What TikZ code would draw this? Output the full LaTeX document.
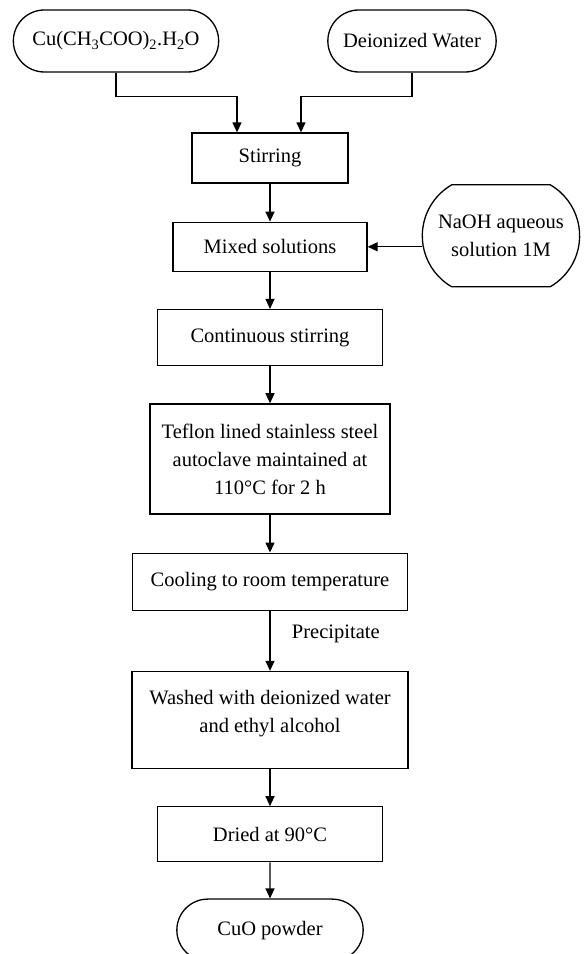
\documentclass[tikz,border=0pt]{standalone}
\usepackage{fontspec}
\setmainfont{Liberation Serif}
\usetikzlibrary{positioning,shapes.misc,arrows.meta}

\begin{document}
\begin{tikzpicture}[->,
					>={Triangle[length=10pt,width=9pt]},
					x=1pt, y=1pt,
					node distance=37pt,
					line width=1.3pt,
					every node/.style={font=\fontsize{20.5}{28}\selectfont},
					step node/.style={rectangle,draw,align=center},
					end node/.style={rounded rectangle,draw,align=center}]

  \useasboundingbox (0,0) rectangle (588,954);

  \node[end node,minimum width=212pt,minimum height=62pt] (cu) at (116,913) {Cu(CH\textsubscript{3}COO)\textsubscript{2}.H\textsubscript{2}O};
  \node[end node,minimum width=175pt,minimum height=62pt] (water) at (412,913) {Deionized Water};
  \node[step node,minimum width=156pt,minimum height=50pt] (stir) at (270,796) {Stirring};
  \node[step node,minimum width=194pt,minimum height=49pt] (mixed) [below=38pt of stir] {Mixed solutions};
  \node[end node,rounded rectangle arc length=120,minimum width=164pt,minimum height=102pt] (naoh) [right=54pt of mixed,yshift=11pt] {NaOH aqueous\\solution 1M};
  \node[step node,minimum width=225pt,minimum height=56pt] (cont) [below=of mixed] {Continuous stirring};
  \node[step node,minimum width=240pt,minimum height=110pt] (teflon) [below=of cont] {Teflon lined stainless steel\\autoclave maintained at\\110°C for 2 h};
  \node[step node,minimum width=275pt,minimum height=57pt] (cool) [below=38pt of teflon] {Cooling to room temperature};
  \node[step node,minimum width=276pt,minimum height=97pt] (wash) [below=60pt of cool] {Washed with deionized water\\and ethyl alcohol\\[-10pt]\mbox{}};
  \node[step node,minimum width=225pt,minimum height=55pt] (dry) [below=of wash] {Dried at 90°C};
  \node[end node,minimum width=193pt,minimum height=62pt] (cuo) [below=36pt of dry] {CuO powder};

  \draw (cu.south) -- ++(0,-24) -| ([xshift=-33pt]stir.north);
  \draw (water.south) -- ++(0,-24) -| ([xshift=31pt]stir.north);
  \draw (stir) -- (mixed);
  \draw (naoh.west |- mixed.east) -- (mixed.east);
  \draw (mixed) -- (cont);
  \draw (cont) -- (teflon);
  \draw (teflon) -- (cool);
  \draw (cool) -- node[right=18pt,pos=0.38] {Precipitate} (wash);
  \draw (wash) -- (dry);
  \draw (dry) -- (cuo);
\end{tikzpicture}
\end{document}
